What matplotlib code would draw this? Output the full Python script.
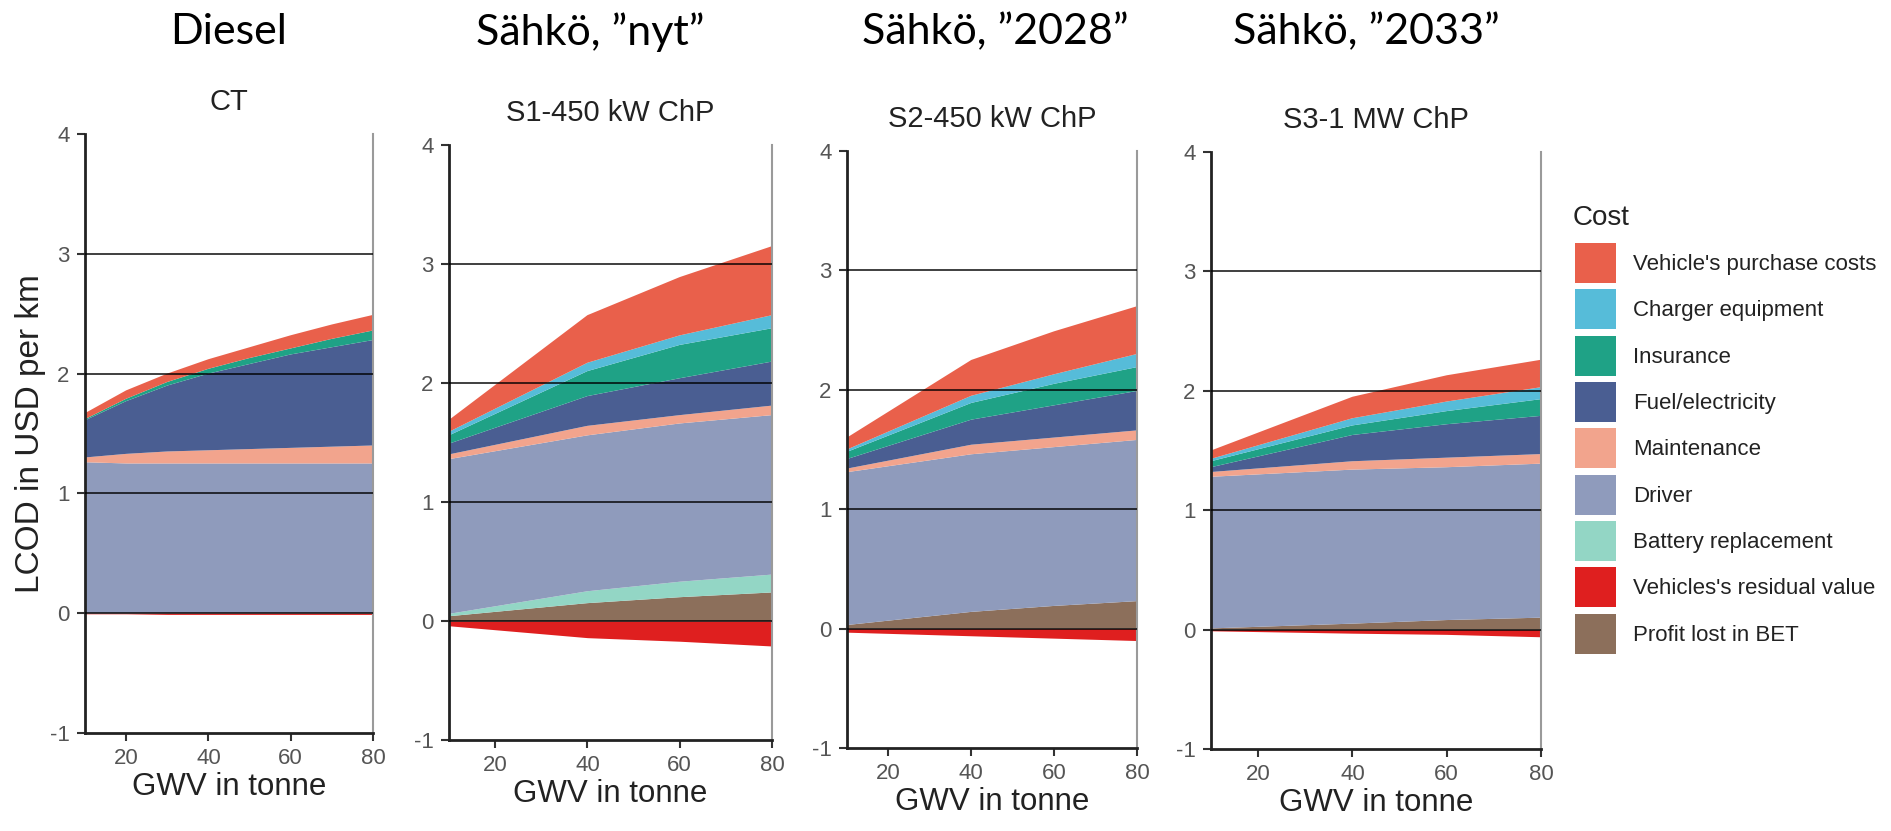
import matplotlib
matplotlib.use("Agg")
import matplotlib.pyplot as plt
from matplotlib.patches import Patch

plt.rcParams['font.family'] = ['Liberation Sans', 'DejaVu Sans']
plt.rcParams['axes.unicode_minus'] = False

# ---------------- data ----------------
categories = ["Vehicle's purchase costs", "Charger equipment", "Insurance",
              "Fuel/electricity", "Maintenance", "Driver", "Battery replacement",
              "Vehicles's residual value", "Profit lost in BET"]

colors = {
    "Vehicle's purchase costs": "#E9604B",
    "Charger equipment": "#56BCD9",
    "Insurance": "#1FA286",
    "Fuel/electricity": "#4A5E92",
    "Maintenance": "#F2A48D",
    "Driver": "#8F9BBC",
    "Battery replacement": "#93D6C5",
    "Vehicles's residual value": "#DF1F1F",
    "Profit lost in BET": "#8C6F5B",
}

group_titles = ["Diesel", "Sähkö, ”nyt”", "Sähkö, ”2028”", "Sähkö, ”2033”"]
panel_titles = ["CT", "S1-450 kW ChP", "S2-450 kW ChP", "S3-1 MW ChP"]

gvw_ct = [10, 20, 30, 40, 50, 60, 70, 80]
gvw_bet = [10, 40, 60, 80]

# CT (diesel)
ct_residual = [-0.005, -0.005, -0.01, -0.01, -0.01, -0.01, -0.01, -0.01]
ct_profit = [0, 0, 0, 0, 0, 0, 0, 0]
ct_battery = [0, 0, 0, 0, 0, 0, 0, 0]
ct_driver = [1.26, 1.25, 1.25, 1.25, 1.25, 1.25, 1.25, 1.25]
ct_maint = [0.04, 0.08, 0.10, 0.11, 0.12, 0.13, 0.14, 0.15]
ct_fuel = [0.31, 0.44, 0.55, 0.64, 0.71, 0.78, 0.83, 0.88]
ct_insurance = [0.01, 0.02, 0.03, 0.04, 0.05, 0.05, 0.07, 0.08]
ct_charger = [0, 0, 0, 0, 0, 0, 0, 0]
ct_purchase = [0.05, 0.07, 0.07, 0.08, 0.09, 0.11, 0.12, 0.13]

# S1-450 kW ChP
s1_residual = [-0.04, -0.14, -0.17, -0.21]
s1_profit = [0.04, 0.15, 0.20, 0.24]
s1_battery = [0.02, 0.10, 0.13, 0.15]
s1_driver = [1.30, 1.31, 1.33, 1.34]
s1_maint = [0.04, 0.08, 0.07, 0.08]
s1_fuel = [0.09, 0.25, 0.31, 0.37]
s1_insurance = [0.07, 0.21, 0.28, 0.28]
s1_charger = [0.03, 0.07, 0.08, 0.11]
s1_purchase = [0.10, 0.40, 0.49, 0.58]

# S2-450 kW ChP
s2_residual = [-0.03, -0.06, -0.08, -0.10]
s2_profit = [0.03, 0.14, 0.19, 0.23]
s2_battery = [0, 0, 0, 0]
s2_driver = [1.28, 1.32, 1.33, 1.35]
s2_maint = [0.03, 0.08, 0.08, 0.08]
s2_fuel = [0.08, 0.21, 0.27, 0.33]
s2_insurance = [0.06, 0.14, 0.18, 0.20]
s2_charger = [0.02, 0.06, 0.08, 0.11]
s2_purchase = [0.10, 0.30, 0.36, 0.40]

# S3-1 MW ChP
s3_residual = [-0.01, -0.03, -0.04, -0.06]
s3_profit = [0.01, 0.05, 0.08, 0.10]
s3_battery = [0, 0, 0, 0]
s3_driver = [1.27, 1.29, 1.28, 1.29]
s3_maint = [0.04, 0.07, 0.08, 0.08]
s3_fuel = [0.04, 0.22, 0.28, 0.32]
s3_insurance = [0.05, 0.08, 0.11, 0.14]
s3_charger = [0.02, 0.06, 0.08, 0.10]
s3_purchase = [0.07, 0.18, 0.22, 0.23]

panels = [
    (gvw_ct, ct_residual, [ct_profit, ct_battery, ct_driver, ct_maint, ct_fuel,
                           ct_insurance, ct_charger, ct_purchase]),
    (gvw_bet, s1_residual, [s1_profit, s1_battery, s1_driver, s1_maint, s1_fuel,
                            s1_insurance, s1_charger, s1_purchase]),
    (gvw_bet, s2_residual, [s2_profit, s2_battery, s2_driver, s2_maint, s2_fuel,
                            s2_insurance, s2_charger, s2_purchase]),
    (gvw_bet, s3_residual, [s3_profit, s3_battery, s3_driver, s3_maint, s3_fuel,
                            s3_insurance, s3_charger, s3_purchase]),
]
stack_order = ["Profit lost in BET", "Battery replacement", "Driver", "Maintenance",
               "Fuel/electricity", "Insurance", "Charger equipment",
               "Vehicle's purchase costs"]

yticks = [-1, 0, 1, 2, 3, 4]
xticks = [20, 40, 60, 80]

# ---------------- layout ----------------
W, H = 1891, 831
fig = plt.figure(figsize=(W / 100, H / 100), dpi=100)

# (left, right, top(y=4), bottom(y=-1)) in pixels
boxes = [(85, 373, 134, 733), (449, 772, 145, 740), (847, 1137, 151, 748), (1211, 1541, 152, 749)]
group_x = [229, 590, 995, 1366]

for i, ((x, resid, stacks), (l, r, t, b)) in enumerate(zip(panels, boxes)):
    ax = fig.add_axes([l / W, 1 - b / H, (r - l) / W, (b - t) / H])
    ax.stackplot(x, *stacks, colors=[colors[k] for k in stack_order], linewidth=0)
    ax.fill_between(x, resid, 0, color=colors["Vehicles's residual value"], linewidth=0)
    for gy in [0, 1, 2, 3]:
        ax.axhline(gy, color="black", lw=1.4, alpha=0.75, zorder=5)
    ax.set_xlim(10, 80)
    ax.set_ylim(-1, 4)
    ax.set_yticks(yticks)
    ax.set_xticks(xticks)
    ax.spines["top"].set_visible(False)
    ax.spines["left"].set_linewidth(2.0)
    ax.spines["bottom"].set_linewidth(2.0)
    ax.spines["left"].set_color("#222222")
    ax.spines["bottom"].set_color("#222222")
    ax.spines["right"].set_color("#9a9a9a")
    ax.spines["right"].set_linewidth(1.5)
    ax.tick_params(axis="both", direction="out", length=6, width=1.5, color="#333333",
                   labelsize=16, labelcolor="#555555", pad=5)
    ax.set_title(panel_titles[i], fontsize=21, color="#222222", pad=17)
    ax.set_xlabel("GWV in tonne", fontsize=22.5, color="#222222", labelpad=2)
    if i == 0:
        ax.set_ylabel("LCOD in USD per km", fontsize=24, color="#222222", labelpad=3)
    fig.text(group_x[i] / W, 1 - 32 / H, group_titles[i], fontsize=31,
             family=["Lato", "DejaVu Sans"], ha="center", va="center", color="black")

# legend
fig.text(1573 / W, 1 - 218 / H, "Cost", fontsize=20, color="#222222", ha="left", va="center")
handles = [Patch(facecolor=colors[c], edgecolor="none") for c in categories]
leg = fig.legend(handles, categories, loc="upper left", bbox_to_anchor=(1575 / W, 1 - 243 / H),
                 frameon=False, fontsize=16,
                 handlelength=1.85, handleheight=2.4, labelspacing=0.28,
                 handletextpad=0.75, borderpad=0, borderaxespad=0)
for txt in leg.get_texts():
    txt.set_color("#222222")

fig.savefig("out.png", dpi=100, facecolor="white")
